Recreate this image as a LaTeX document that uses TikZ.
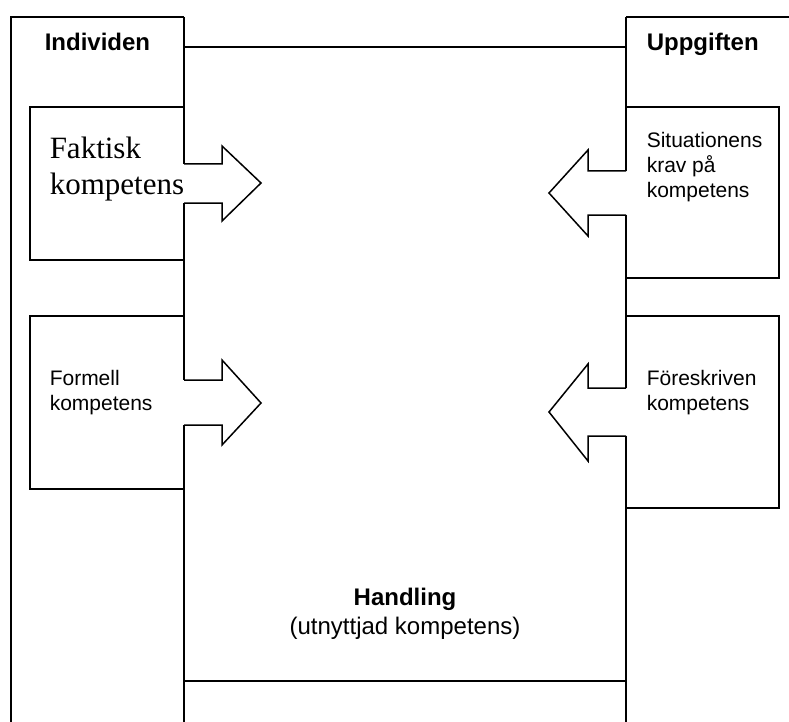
\documentclass[tikz,border=0pt]{standalone}
\usepackage{fontspec}
\setmainfont{Liberation Sans}
\newfontfamily\timesfont{Liberation Serif}
\begin{document}
\begin{tikzpicture}[x=1pt,y=-1pt,line width=1.5pt]
    \tikzstyle{every node}=[inner sep=0pt,align=left];
    \tikzstyle{small}=[font=\fontsize{21}{25}\selectfont];
    \tikzstyle{big}=[font=\bfseries\fontsize{24}{28}\selectfont];
    \useasboundingbox (0,0) rectangle (789,722);
    %outer frame and columns
    \draw (184,17) -- (11,17) -- (11,722);
    \draw (626,17) -- (789,17);
    \draw (184,47) -- (626,47);
    \draw (184,681) -- (626,681);
    \draw (184,17) -- (184,164)
    (184,203) -- (184,380)
    (184,425) -- (184,722);
    \draw (626,17) -- (626,171)
    (626,215) -- (626,388)
    (626,436) -- (626,722);
    %boxes
    \draw (184,107) -- (30,107) -- (30,260) -- (184,260);
    \draw (184,316) -- (30,316) -- (30,489) -- (184,489);
    \draw (626,107) -- (779,107) -- (779,278) -- (626,278);
    \draw (626,316) -- (779,316) -- (779,508) -- (626,508);
    %arrows
    \draw (184,164) -- (222,164) -- (222,146) -- (261,183) -- (222,221) -- (222,203) -- (184,203);
    \draw (184,380) -- (222,380) -- (222,360) -- (261,403) -- (222,445) -- (222,425) -- (184,425);
    \draw (626,171) -- (588,171) -- (588,150) -- (549,193) -- (588,236) -- (588,215) -- (626,215);
    \draw (626,388) -- (588,388) -- (588,364) -- (549,412) -- (588,461) -- (588,436) -- (626,436);
    %labels
    \node[big,anchor=base west] (individen) at (44,51) {Individen};
    \node[big,anchor=base west] (uppgiften) at (646,51) {Uppgiften};
    \node[anchor=north west,font=\timesfont\fontsize{31}{36}\selectfont] (faktisk) at (49,136) {Faktisk\\kompetens};
    \node[small,anchor=north west] (situation) at (646,132) {Situationens\\krav på\\kompetens};
    \node[small,anchor=north west] (formell) at (49,370) {Formell\\kompetens};
    \node[small,anchor=north west] (foreskriven) at (646,370) {Föreskriven\\kompetens};
    \node[big,anchor=base] (handling) at (405,605) {Handling};
    \node[font=\fontsize{24}{28}\selectfont,anchor=base] (utnyttjad) at (405,634) {(utnyttjad kompetens)};
\end{tikzpicture}
\end{document}
